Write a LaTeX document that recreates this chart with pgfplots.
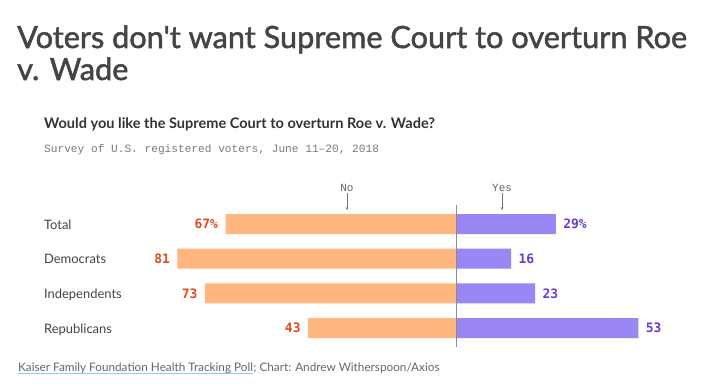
\documentclass[border=0pt]{standalone}
\usepackage{pgfplots}
\pgfplotsset{compat=1.18}
\usetikzlibrary{arrows.meta}
\usepackage{fontspec}
\setmainfont{Lato}
\newfontfamily\titlef[FakeBold=1.6]{Lato}
\newfontfamily\monof{Liberation Mono}
\newfontfamily\valf{DejaVu Sans Mono}
\definecolor{titlec}{HTML}{444444}
\definecolor{subc}{HTML}{333333}
\definecolor{grayc}{HTML}{7A7A7A}
\definecolor{noBar}{HTML}{FFB67F}
\definecolor{yesBar}{HTML}{9A87F5}
\definecolor{noTxt}{HTML}{E14B1C}
\definecolor{yesTxt}{HTML}{6A3CCF}
\definecolor{linkc}{HTML}{8CCDEB}
\begin{document}
\begin{tikzpicture}[x=1bp,y=1bp]
\path[fill=white] (0,0) rectangle (710,-388);
% titles
\node[anchor=base west, inner sep=0, text=titlec, font=\titlef\fontsize{30.8}{33}\selectfont] at (17,-48) {Voters don{\char"0027}t want Supreme Court to overturn Roe};
\node[anchor=base west, inner sep=0, text=titlec, font=\titlef\fontsize{30.8}{33}\selectfont] at (17,-80) {v. Wade};
\node[anchor=base west, inner sep=0, text=subc, font=\fontsize{14.6}{16}\selectfont\bfseries] at (44,-128) {Would you like the Supreme Court to overturn Roe v. Wade?};
\node[anchor=base west, inner sep=0, text=grayc, font=\monof\fontsize{11.2}{13}\selectfont] at (44,-152) {Survey of U.S. registered voters, June 11–20, 2018};
\begin{axis}[
  at={(0,0)}, anchor=north west,
  scale only axis, width=710bp, height=388bp,
  xmin=-132.56, xmax=73.84,
  ymin=-6.455, ymax=4.726, y dir=reverse,
  hide axis, clip=false,
  xbar, bar width=20bp, bar shift=0pt,
  point meta=explicit symbolic,
  nodes near coords,
]
\addplot[draw=none, fill=noBar,
  every node near coord/.style={anchor=east, xshift=-4bp, text=noTxt, font=\valf\bfseries\fontsize{13}{15}\selectfont}]
  coordinates {(-67,0) [67\%] (-81,1) [81] (-73,2) [73] (-43,3) [43]};
\addplot[draw=none, fill=yesBar,
  every node near coord/.style={anchor=west, xshift=4bp, text=yesTxt, font=\valf\bfseries\fontsize{13}{15}\selectfont}]
  coordinates {(29,0) [29\%] (16,1) [16] (23,2) [23] (53,3) [53]};
\draw[color=black!45, line width=0.8bp] (axis cs:0,-0.548) -- (axis cs:0,3.545);
% category labels
\node[anchor=base west, inner sep=0, yshift=-5bp, text=titlec, font=\fontsize{13}{15}\selectfont] at (axis cs:-119.8,0) {Total};
\node[anchor=base west, inner sep=0, yshift=-5bp, text=titlec, font=\fontsize{13}{15}\selectfont] at (axis cs:-119.8,1) {Democrats};
\node[anchor=base west, inner sep=0, yshift=-5bp, text=titlec, font=\fontsize{13}{15}\selectfont] at (axis cs:-119.8,2) {Independents};
\node[anchor=base west, inner sep=0, yshift=-5bp, text=titlec, font=\fontsize{13}{15}\selectfont] at (axis cs:-119.8,3) {Republicans};
% No / Yes markers
\node[anchor=base, inner sep=0, text=black!60, font=\monof\fontsize{11}{12}\selectfont] at (axis cs:-31.7,-0.93) {No};
\draw[-{Stealth[length=3bp,width=2.5bp]}, black!55, line width=0.6bp] (axis cs:-31.7,-0.88) -- (axis cs:-31.7,-0.4);
\node[anchor=base, inner sep=0, text=black!60, font=\monof\fontsize{11}{12}\selectfont] at (axis cs:13.4,-0.93) {Yes};
\draw[-{Stealth[length=3bp,width=2.5bp]}, black!55, line width=0.6bp] (axis cs:13.4,-0.88) -- (axis cs:13.4,-0.4);
\end{axis}
% footer
\node[anchor=base west, inner sep=0, text=black!60, font=\fontsize{11.8}{13}\selectfont] (src) at (18,-371) {Kaiser Family Foundation Health Tracking Poll};
\draw[linkc, line width=0.8bp] ([yshift=-2bp]src.base west) -- ([yshift=-2bp]src.base east);
\node[anchor=base west, inner sep=0, text=black!60, font=\fontsize{11.8}{13}\selectfont] at (src.base east) {; Chart: Andrew Witherspoon/Axios};
\end{tikzpicture}
\end{document}
